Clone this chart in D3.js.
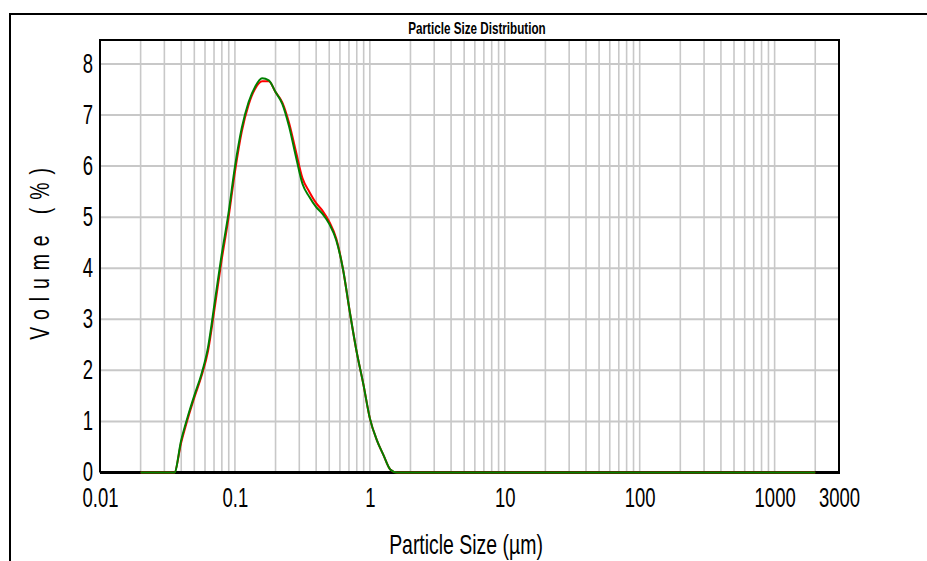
<!DOCTYPE html>
<html>
<head>
<meta charset="utf-8">
<script src="https://cdn.jsdelivr.net/npm/d3@7"></script>
<style>
  html, body { margin: 0; padding: 0; background: #fff; }
  svg { display: block; }
  .cond { transform-box: fill-box; }
</style>
</head>
<body>
<svg id="chart" width="927" height="561"></svg>
<script>
// Size classes (µm) of the laser-diffraction measurement
const sizes = [0.02, 0.0356, 0.0399, 0.0448, 0.0502, 0.0564, 0.0632, 0.0710, 0.0796, 0.0893,
  0.1002, 0.1125, 0.1262, 0.1416, 0.1589, 0.1783, 0.2000, 0.2244, 0.2518, 0.2825,
  0.3170, 0.3557, 0.3991, 0.4477, 0.5024, 0.5637, 0.6325, 0.7096, 0.7962, 0.8934,
  1.0024, 1.1247, 1.2619, 1.4159, 1.5887, 2000];

// Volume % per size class, two runs
const runA = [0, 0, 0.58, 1.06, 1.48, 1.88, 2.38, 3.25, 4.15, 4.96,
  5.90, 6.68, 7.20, 7.52, 7.66, 7.66, 7.45, 7.25, 6.85, 6.30,
  5.76, 5.50, 5.28, 5.12, 4.90, 4.58, 3.98, 3.15, 2.38, 1.74,
  1.05, 0.64, 0.34, 0.06, 0, 0];
const runB = [0, 0, 0.62, 1.10, 1.52, 1.92, 2.45, 3.35, 4.25, 5.05,
  6.00, 6.75, 7.25, 7.56, 7.72, 7.68, 7.45, 7.22, 6.78, 6.20,
  5.65, 5.40, 5.20, 5.06, 4.86, 4.55, 3.98, 3.15, 2.38, 1.74,
  1.05, 0.64, 0.34, 0.06, 0, 0];

const seriesColors = ["#ff0000", "#008000"];
const xTickValues = [0.01, 0.1, 1, 10, 100, 1000, 3000];
const xTickLabels = ["0.01", "0.1", "1", "10", "100", "1000", "3000"];
const yTickValues = [0, 1, 2, 3, 4, 5, 6, 7, 8];

const titleText = "Particle Size Distribution";
const xTitle = "Particle Size (µm)";
const yTitle = "Volume (%)";

const svg = d3.select("#chart");
const FONT = "'Liberation Sans', Arial, sans-serif";

const plotL = 100, plotR = 839, plotT = 40, plotB = 472.5;

const x = d3.scaleLog().domain([0.01, 3000]).range([plotL, plotR]);
const y = d3.scaleLinear().domain([0, 8.47]).range([plotB, plotT]);

// horizontal compression for the narrow lettering
function squeeze(sel, k, origin) {
  sel.attr("class", "cond")
     .style("transform-origin", origin)
     .style("transform", `scaleX(${k})`);
}

// outer frame
svg.append("path")
  .attr("d", "M10,561 L10,14 L927,14")
  .attr("fill", "none").attr("stroke", "#000").attr("stroke-width", 2);

// title
svg.append("text")
  .attr("x", 477).attr("y", 34)
  .attr("text-anchor", "middle")
  .attr("font-family", FONT).attr("font-weight", "bold").attr("font-size", 16)
  .text(titleText)
  .call(squeeze, 0.73, "center");

// grid
const grid = svg.append("g");
grid.selectAll("line.v")
  .data(x.ticks().filter(d => d > 0.0100001 && d < 2999))
  .join("line")
  .attr("x1", d => x(d)).attr("x2", d => x(d))
  .attr("y1", plotT).attr("y2", plotB)
  .attr("stroke", "#c8c8c8").attr("stroke-width", 1.6);
grid.selectAll("line.h")
  .data(yTickValues.filter(d => d > 0))
  .join("line")
  .attr("x1", plotL).attr("x2", plotR)
  .attr("y1", d => y(d)).attr("y2", d => y(d))
  .attr("stroke", "#c8c8c8").attr("stroke-width", 2);

// plot frame
svg.append("path")
  .attr("d", `M${plotL},${plotB} L${plotL},${plotT} L${plotR},${plotT} L${plotR},${plotB}`)
  .attr("fill", "none").attr("stroke", "#000").attr("stroke-width", 2);
svg.append("line")
  .attr("x1", plotL).attr("x2", plotR + 1)
  .attr("y1", plotB).attr("y2", plotB)
  .attr("stroke", "#000").attr("stroke-width", 3);

// series
const line = d3.line()
  .x((d, i) => x(sizes[i]))
  .y(d => y(d))
  .curve(d3.curveMonotoneX);

[runA, runB].forEach((vals, k) => {
  svg.append("path")
    .datum(vals)
    .attr("d", line)
    .attr("fill", "none")
    .attr("stroke", seriesColors[k])
    .attr("stroke-width", 2)
    .attr("stroke-linejoin", "round");
});

// x axis labels
const xAxis = d3.axisBottom(x)
  .tickValues(xTickValues)
  .tickFormat((d, i) => xTickLabels[i])
  .tickSize(0);
const gx = svg.append("g").attr("transform", `translate(0,${plotB})`).call(xAxis);
gx.select(".domain").remove();
gx.selectAll("text")
  .attr("y", 35).attr("dy", 0)
  .attr("fill", "#000")
  .attr("font-family", FONT).attr("font-size", 28)
  .call(squeeze, 0.66, "center");

// y axis labels
const yAxis = d3.axisLeft(y).tickValues(yTickValues).tickFormat(d3.format("d")).tickSize(0);
const gy = svg.append("g").attr("transform", `translate(${plotL},0)`).call(yAxis);
gy.select(".domain").remove();
gy.selectAll("text")
  .attr("x", -7).attr("dy", "0.3em")
  .attr("fill", "#000")
  .attr("font-family", FONT).attr("font-size", 28)
  .call(squeeze, 0.66, "right");

// axis titles
svg.append("text")
  .attr("x", 466).attr("y", 554)
  .attr("text-anchor", "middle")
  .attr("font-family", FONT).attr("font-size", 27)
  .text(xTitle)
  .call(squeeze, 0.72, "center");

svg.append("g")
  .attr("transform", "translate(49,250) rotate(-90)")
  .append("text")
  .attr("text-anchor", "middle")
  .attr("font-family", FONT).attr("font-size", 27)
  .attr("letter-spacing", 11)
  .text(yTitle)
  .call(squeeze, 0.72, "center");
</script>
</body>
</html>
